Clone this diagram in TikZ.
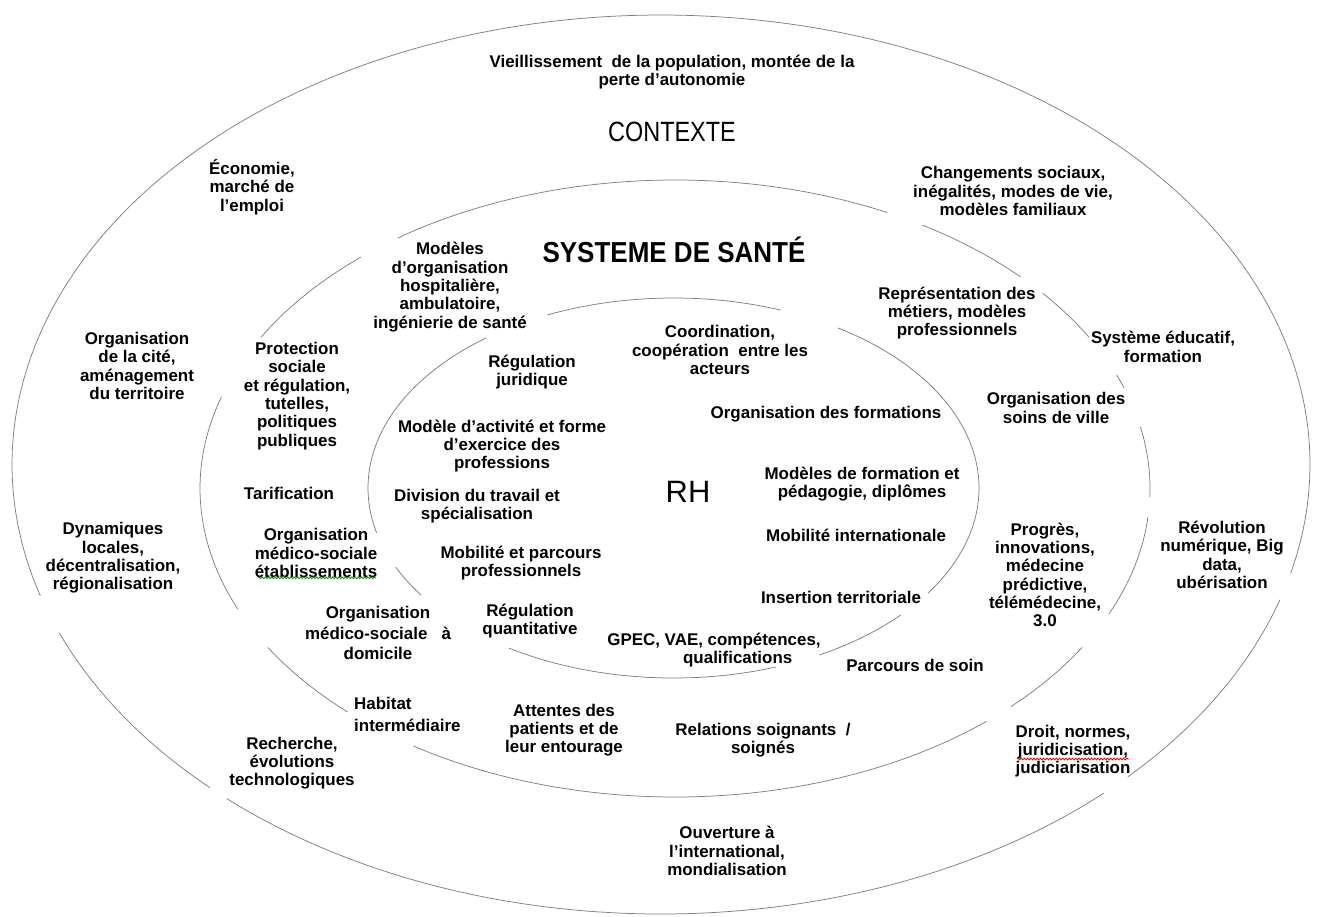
\documentclass[tikz,border=0pt]{standalone}
\usepackage{fontspec}
\setmainfont{Liberation Sans}
\newfontfamily\ctxfont[FakeStretch=0.84]{Liberation Sans}
\newfontfamily\sysfont[FakeStretch=0.9]{Liberation Sans}
\usetikzlibrary{decorations.pathmorphing}
\tikzset{
  ring/.style={draw=black!50, line width=0.75bp},
  lbl/.style={font=\bfseries\fontsize{17}{18.4}\selectfont, align=center, inner sep=0pt, text=black},
  squig/.style={decorate, decoration={snake, segment length=3.2bp, amplitude=0.9bp}, line width=0.8bp},
}
\newcommand\ellarc[6]{\draw[ring] plot[domain=#5:#6,samples=90,smooth,variable=\t] ({#1+#3*cos(\t)},{#2-#4*sin(\t)});}
\begin{document}
\begin{tikzpicture}[x=1bp,y=-1bp]
\useasboundingbox[fill=white] (0,0) rectangle (1317,916);
% outer ellipse (CONTEXTE)
\ellarc{661}{464.5}{649}{449.5}{202}{226}
\ellarc{661}{464.5}{649}{449.5}{228}{313}
\ellarc{661}{464.5}{649}{449.5}{316}{342.5}
\ellarc{661}{464.5}{649}{449.5}{346}{557}
% middle ellipse (SYSTEME DE SANTE)
\ellarc{675}{488.5}{475}{308.5}{19}{21.6}
\ellarc{675}{488.5}{475}{308.5}{29.4}{39.3}
\ellarc{675}{488.5}{475}{308.5}{43.3}{58.6}
\ellarc{675}{488.5}{475}{308.5}{63.5}{125.7}
\ellarc{675}{488.5}{475}{308.5}{131.4}{150.6}
\ellarc{675}{488.5}{475}{308.5}{162.7}{203}
\ellarc{675}{488.5}{475}{308.5}{211}{226.4}
\ellarc{675}{488.5}{475}{308.5}{236.6}{311}
\ellarc{675}{488.5}{475}{308.5}{315}{329}
\ellarc{675}{488.5}{475}{308.5}{336}{354.7}
\ellarc{675}{488.5}{475}{308.5}{358.4}{371.5}
% inner ellipse (RH)
\ellarc{673.5}{488}{305.5}{190}{69.5}{114.4}
\ellarc{673.5}{488}{305.5}{190}{127.9}{193.7}
\ellarc{673.5}{488}{305.5}{190}{204.6}{214.3}
\ellarc{673.5}{488}{305.5}{190}{237.4}{289.6}
\ellarc{673.5}{488}{305.5}{190}{298.5}{318.1}
\ellarc{673.5}{488}{305.5}{190}{326.4}{417.4}

% titles
\node[font=\ctxfont\fontsize{28}{30}\selectfont] (ctx) at (672,132) {CONTEXTE};
\node[font=\sysfont\bfseries\fontsize{29}{31}\selectfont] (sys) at (674,250) {SYSTEME DE SANTÉ};
\node[font=\fontsize{31}{33}\selectfont] (rh) at (688,492) {RH};

% CONTEXTE ring
\node[lbl] (viel) at (672,72) {Vieillissement~ de la population, montée de la\\perte d’autonomie};
\node[lbl] (eco) at (252,187) {Économie,\\marché de\\l'emploi};
\node[lbl] (chg) at (1013,191) {Changements sociaux,\\inégalités, modes de vie,\\modèles familiaux};
\node[lbl] (cite) at (137,366) {Organisation\\de la cité,\\aménagement\\du territoire};
\node[lbl] (educ) at (1163,347) {Système éducatif,\\formation};
\node[lbl] (dyn) at (113,558) {Dynamiques\\locales,\\décentralisation,\\régionalisation};
\node[lbl] (revol) at (1222,555) {Révolution\\numérique, Big\\data,\\ubérisation};
\node[lbl] (rech) at (292,763) {Recherche,\\évolutions\\technologiques};
\node[lbl] (droit) at (1073,751) {Droit, normes,\\juridicisation,\\judiciarisation};
\node[lbl] (ouv) at (727,851) {Ouverture à\\l'international,\\mondialisation};

% SYSTEME DE SANTE ring
\node[lbl] (modorg) at (450,287) {Modèles\\d’organisation\\hospitalière,\\ambulatoire,\\ingénierie de santé};
\node[lbl] (repr) at (957,313) {Représentation des\\métiers, modèles\\professionnels};
\node[lbl] (prot) at (297,396) {Protection\\sociale\\et régulation,\\tutelles,\\politiques\\publiques};
\node[lbl] (soinsv) at (1056,408) {Organisation des\\soins de ville};
\node[lbl] (tarif) at (289,493) {Tarification};
\node[lbl] (medetab) at (316,553) {Organisation\\médico-sociale\\établissements};
\node[lbl] (progres) at (1045,575) {Progrès,\\innovations,\\médecine\\prédictive,\\télémédecine,\\3.0};
\node[lbl, font=\bfseries\fontsize{17}{20.5}\selectfont] (meddom) at (378,633) {Organisation\\médico-sociale~~ à\\domicile};
\node[lbl] (parcsoin) at (915,665) {Parcours de soin};
\node[lbl, align=left, anchor=west, font=\bfseries\fontsize{17}{22}\selectfont] (habitat) at (354,714) {Habitat\\intermédiaire};
\node[lbl] (attentes) at (564,730) {Attentes des\\patients et de\\leur entourage};
\node[lbl] (relations) at (763,740) {Relations soignants~ /\\soignés};

% RH ring
\node[lbl] (coord) at (720,350) {Coordination,\\coopération~ entre les\\acteurs};
\node[lbl] (regjur) at (532,372) {Régulation\\juridique};
\node[lbl] (orgform) at (826,414) {Organisation des formations};
\node[lbl] (modact) at (502,446) {Modèle d’activité et forme\\d’exercice des\\professions};
\node[lbl] (modform) at (862,484) {Modèles de formation et\\pédagogie, diplômes};
\node[lbl] (divtrav) at (477,506) {Division du travail et\\spécialisation};
\begin{scope}
\clip (700,515) rectangle (961,560);
\node[lbl, anchor=west] (mobint) at (766,535) {Mobilité internationale};
\end{scope}
\node[lbl] (mobparc) at (521,563) {Mobilité et parcours\\professionnels};
\node[lbl] (insert) at (841,597) {Insertion territoriale};
\node[lbl] (regquant) at (530,621) {Régulation\\quantitative};
\node[lbl] (gpec) at (714,650) {GPEC, VAE, compétences,\\\hspace*{2.8em}qualifications};

% spell-check underlines
\draw[squig, red!85!black] ([xshift=-56bp,yshift=-8bp]droit.center) -- ([xshift=56bp,yshift=-8bp]droit.center);
\draw[squig, green!55!black] ([xshift=-58bp]medetab.south) -- ([xshift=60bp]medetab.south);
\end{tikzpicture}
\end{document}
